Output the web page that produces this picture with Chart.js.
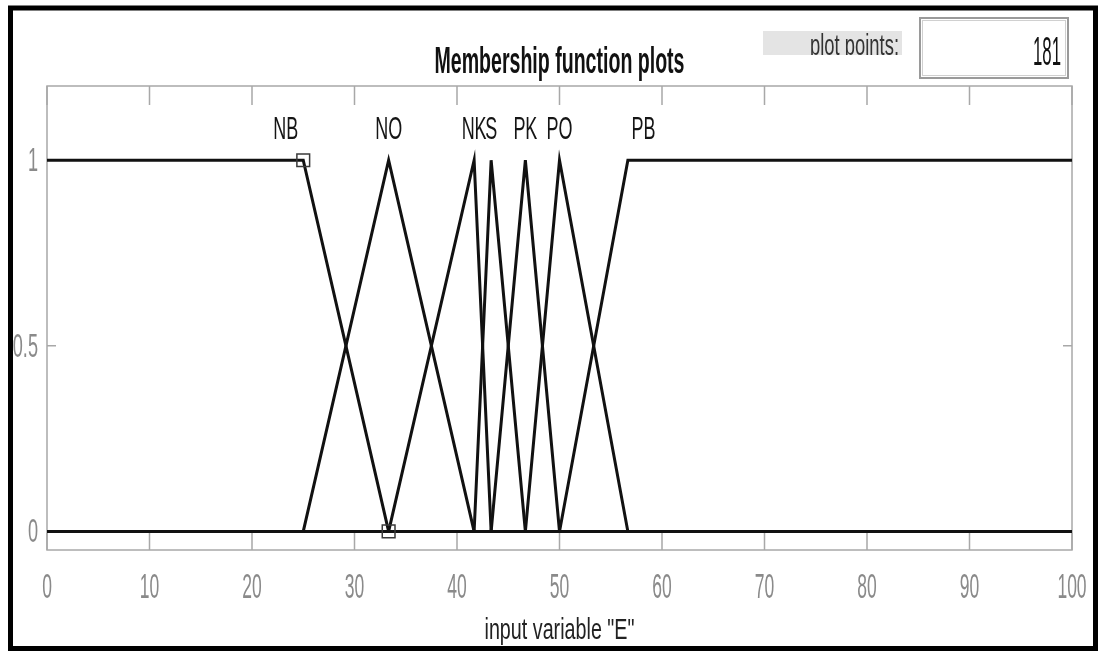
<!DOCTYPE html>
<html>
<head>
<meta charset="utf-8">
<script src="https://cdn.jsdelivr.net/npm/chart.js@4.4.1/dist/chart.umd.min.js"></script>
<style>
  html, body { margin: 0; padding: 0; background: #fff; overflow: hidden; }
</style>
</head>
<body>
<canvas id="mfChart" width="1101" height="653"></canvas>
<script>
// membership functions of input variable "E", range 0..100
var mfNames = ["NB", "NO", "NK", "S", "PK", "PO", "PB"];
var nbX = [0, 25, 33.33, 100],           nbY = [1, 1, 0, 0];
var noX = [0, 25, 33.33, 41.67, 100],    noY = [0, 0, 1, 0, 0];
var nkX = [0, 33.33, 41.67, 43.33, 100], nkY = [0, 0, 1, 0, 0];
var sX  = [0, 41.67, 43.33, 46.67, 100], sY  = [0, 0, 1, 0, 0];
var pkX = [0, 43.33, 46.67, 50, 100],    pkY = [0, 0, 1, 0, 0];
var poX = [0, 46.67, 50, 56.67, 100],    poY = [0, 0, 1, 0, 0];
var pbX = [0, 50, 56.67, 100],           pbY = [0, 0, 1, 1];
// where each mf name is written (x in data units)
var labelAt = [23.3, 33.33, 41.67, 43.33, 46.67, 50, 58.2];
var xTicks = [0, 10, 20, 30, 40, 50, 60, 70, 80, 90, 100];
var yTicks = [0, 0.5, 1];
var plotPoints = 181;

function pts(xs, ys) {
  return xs.map(function (x, i) { return { x: x, y: ys[i] }; });
}

// text in the screenshot is horizontally squeezed, so draw it scaled
function narrowText(ctx, txt, x, y, font, sx, align, color) {
  ctx.save();
  ctx.font = font;
  ctx.fillStyle = color;
  ctx.textAlign = "left";
  ctx.textBaseline = "alphabetic";
  var w = ctx.measureText(txt).width * sx;
  var left = align === "center" ? x - w / 2 : align === "right" ? x - w : x;
  ctx.translate(left, y);
  ctx.scale(sx, 1);
  ctx.fillText(txt, 0, 0);
  ctx.restore();
}
function fitText(ctx, txt, x, y, font, width, align, color) {
  ctx.save();
  ctx.font = font;
  var sx = width / ctx.measureText(txt).width;
  ctx.restore();
  narrowText(ctx, txt, x, y, font, sx, align, color);
}

var matlabAxes = {
  id: "matlabAxes",
  beforeDraw: function (chart) {
    var ctx = chart.ctx;
    ctx.save();
    ctx.fillStyle = "#fff";
    ctx.fillRect(0, 0, chart.width, chart.height);
    ctx.restore();
  },
  beforeDatasetsDraw: function (chart) {
    var ctx = chart.ctx, a = chart.chartArea;
    var xs = chart.scales.x, ys = chart.scales.y;
    ctx.save();
    ctx.strokeStyle = "#a8a8a8";
    ctx.lineWidth = 1.5;
    xTicks.forEach(function (t) {
      var px = xs.getPixelForValue(t);
      ctx.beginPath();
      ctx.moveTo(px, a.top); ctx.lineTo(px, a.top + 19);
      ctx.moveTo(px, a.bottom); ctx.lineTo(px, a.bottom - 17);
      ctx.stroke();
    });
    yTicks.forEach(function (t) {
      var py = ys.getPixelForValue(t);
      ctx.beginPath();
      ctx.moveTo(a.left, py); ctx.lineTo(a.left + 9, py);
      ctx.moveTo(a.right, py); ctx.lineTo(a.right - 9, py);
      ctx.stroke();
    });
    ctx.strokeRect(a.left, a.top, a.right - a.left, a.bottom - a.top);
    ctx.restore();
  },
  afterDraw: function (chart) {
    var ctx = chart.ctx, a = chart.chartArea;
    var xs = chart.scales.x, ys = chart.scales.y;
    var font = "'Liberation Sans', Arial, sans-serif";

    xTicks.forEach(function (t) {
      narrowText(ctx, String(t), xs.getPixelForValue(t), 598, "35px " + font, 0.5, "center", "#8a8a8a");
    });
    yTicks.forEach(function (t) {
      narrowText(ctx, String(t), 38, ys.getPixelForValue(t) + 11, "33px " + font, 0.55, "right", "#8a8a8a");
    });
    mfNames.forEach(function (n, i) {
      narrowText(ctx, n, xs.getPixelForValue(labelAt[i]), 139, "31px " + font, 0.58, "center", "#151515");
    });

    fitText(ctx, "Membership function plots", (a.left + a.right) / 2, 73, "bold 36px " + font, 250, "center", "#111");
    fitText(ctx, "input variable \"E\"", (a.left + a.right) / 2, 639, "30px " + font, 150, "center", "#222");

    // "plot points:" caption and the edit box
    ctx.save();
    ctx.fillStyle = "#e4e4e4";
    ctx.fillRect(763, 31, 139, 24);
    ctx.beginPath();
    ctx.rect(763, 31, 139, 24);
    ctx.clip();
    fitText(ctx, "plot points:", 899, 55, "30px " + font, 89, "right", "#333");
    ctx.restore();

    ctx.save();
    ctx.fillStyle = "#fff";
    ctx.fillRect(920, 18, 148, 60);
    ctx.strokeStyle = "#9a9a9a";
    ctx.lineWidth = 2;
    ctx.strokeRect(920, 18, 148, 60);
    ctx.strokeStyle = "#d0d0d0";
    ctx.lineWidth = 1;
    ctx.strokeRect(922.5, 20.5, 143, 55);
    ctx.restore();
    fitText(ctx, String(plotPoints), 1061, 65, "40px " + font, 28, "right", "#111");

    // outer frame of the screenshot
    ctx.save();
    ctx.strokeStyle = "#000";
    ctx.lineWidth = 5;
    ctx.strokeRect(10.5, 8, 1085, 640.5);
    ctx.restore();
  }
};

function mfDataset(xs, ys, radius) {
  return {
    data: pts(xs, ys),
    borderColor: "#111",
    borderWidth: 3,
    pointRadius: radius || 0,
    pointStyle: "rect",
    pointBackgroundColor: "rgba(0,0,0,0)",
    pointBorderColor: "#3a3a3a",
    pointBorderWidth: 1.5,
    tension: 0
  };
}

new Chart("mfChart", {
  type: "line",
  data: {
    datasets: [
      mfDataset(nbX, nbY, [0, 9, 9, 0]),
      mfDataset(noX, noY),
      mfDataset(nkX, nkY),
      mfDataset(sX, sY),
      mfDataset(pkX, pkY),
      mfDataset(poX, poY),
      mfDataset(pbX, pbY)
    ]
  },
  options: {
    responsive: false,
    devicePixelRatio: 1,
    animation: false,
    layout: { padding: { left: 47, right: 29, top: 86, bottom: 103 } },
    plugins: { legend: { display: false }, tooltip: { enabled: false } },
    scales: {
      x: { type: "linear", min: 0, max: 100, display: false },
      y: { type: "linear", min: -0.05, max: 1.2, display: false }
    }
  },
  plugins: [matlabAxes]
});
</script>
</body>
</html>
